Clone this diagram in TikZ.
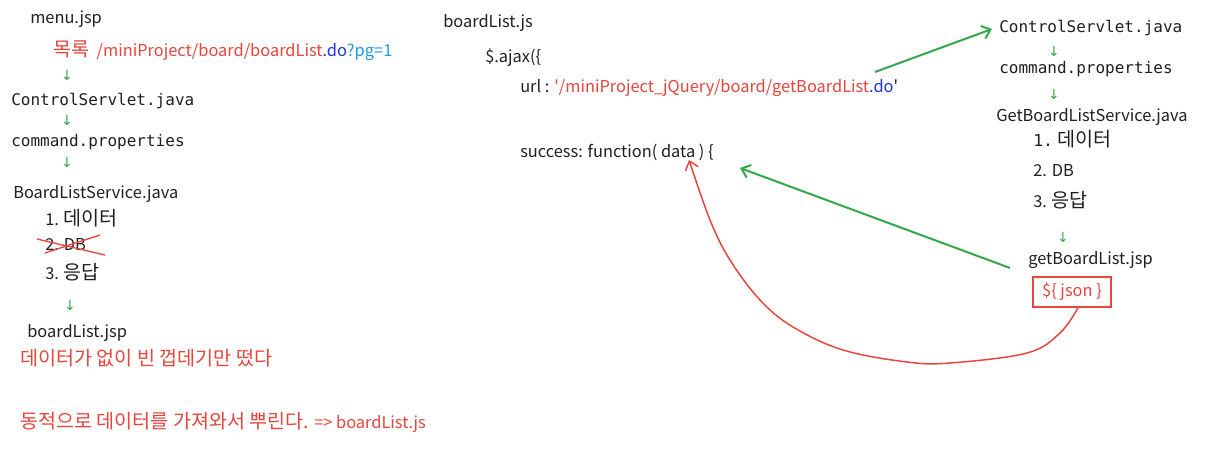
\documentclass[tikz,border=0pt]{standalone}
\usepackage{fontspec}
\setmainfont{Noto Sans CJK KR}[Ligatures=TeXOff]
\setmonofont{DejaVu Sans Mono}
\newfontfamily\symf{DejaVu Sans}
\newcommand\ko[1]{{\fontsize{14.7pt}{17pt}\selectfont #1}}
\usetikzlibrary{arrows.meta}
\definecolor{cred}{HTML}{E8453C}
\definecolor{cgreen}{HTML}{36A84C}
\definecolor{cblue}{HTML}{2233DD}
\definecolor{ccyan}{HTML}{1C9DE0}
\definecolor{ctext}{HTML}{202020}
\begin{document}
\begin{tikzpicture}[x=0.75pt,y=-0.75pt,
  txt/.style={anchor=base west, inner sep=0pt, text=ctext, font=\fontsize{12.3pt}{15pt}\selectfont},
  code/.style={anchor=base west, inner sep=0pt, text=ctext, font=\fontsize{12pt}{14pt}\ttfamily},
  dn/.style={inner sep=0pt, text=cgreen, font=\fontsize{10.5pt}{12pt}\symf},
  garrow/.style={draw=cgreen, line width=1.5pt, -{Straight Barb[length=6pt,width=10pt]}},
  rarrow/.style={draw=cred, line width=1.1pt, -{Straight Barb[length=6pt,width=10pt]}},
  jbox/.style={draw=cred, line width=1.1pt, inner sep=4pt, text=cred, minimum width=58.5pt, minimum height=22.5pt, font=\fontsize{12.3pt}{15pt}\selectfont}
]
\useasboundingbox[fill=white] (0,0) rectangle (1210,463);

% ---------- left column ----------
\node[txt] (menu) at (30,24) {menu.jsp};
\node[txt] (mokrok) at (53,57) {\textcolor{cred}{\ko{목록}~~/miniProject/board/boardList}\textcolor{cblue}{.do}\textcolor{ccyan}{?pg=1}};
\node[dn] (d1) at (67,75) {↓};
\node[code] (cs1) at (11,106) {ControlServlet.java};
\node[dn] (d2) at (67,120) {↓};
\node[code] (cp1) at (11,147) {command.properties};
\node[dn] (d3) at (67,162) {↓};
\node[txt] (bls) at (13,199) {BoardListService.java};
\node[txt] (l1) at (45,226) {1. \ko{데이터}};
\node[txt] (l2) at (45,251) {2. DB};
\draw[cred, line width=1pt] (37,239) -- (105,255);
\draw[cred, line width=1pt] (45,253) -- (100,235);
\node[txt] (l3) at (45,280) {3. \ko{응답}};
\node[dn] (d4) at (70,305) {↓};
\node[txt] (bljsp) at (27,338) {boardList.jsp};
\node[txt, text=cred] (empty) at (20,365) {\ko{데이터가 없이 빈 껍데기만 떴다}};
\node[txt, text=cred] (dyn) at (20,428) {\ko{동적으로 데이터를 가져와서 뿌린다.} => boardList.js};

% ---------- middle column ----------
\node[txt] (bljs) at (443,28) {boardList.js};
\node[txt] (ajax) at (485,63) {\$.ajax(\{};
\node[txt] (url) at (520,93) {url : \textcolor{cred}{'/miniProject\_jQuery/board/getBoardList}\textcolor{cblue}{.do}'};
\node[txt] (succ) at (520,158) {success: function( data ) \{};

% ---------- right column ----------
\node[code] (cs2) at (999,33) {ControlServlet.java};
\node[dn] (d5) at (1054,51) {↓};
\node[code] (cp2) at (999,74) {command.properties};
\node[dn] (d6) at (1054,94) {↓};
\node[txt] (gbls) at (996,122) {GetBoardListService.java};
\node[txt] (r1) at (1033,147) {{\ttfamily 1.} \ko{데이터}};
\node[txt] (r2) at (1033,177) {2. DB};
\node[txt] (r3) at (1033,208) {3. \ko{응답}};
\node[dn] (d7) at (1063,237) {↓};
\node[txt] (gbljsp) at (1028,265) {getBoardList.jsp};
\node[jbox] (json) at (1072,292) {\$\{ json \}};

% ---------- connectors ----------
\coordinate (g1s) at (875,72);
\coordinate (g1e) at (992,29);
\draw[garrow] (g1s) -- (g1e);
\coordinate (g2s) at (1010,268);
\coordinate (g2e) at (740,168);
\draw[garrow] (g2s) -- (g2e);
\coordinate (datatip) at (689,160);
\draw[rarrow] plot[smooth, tension=0.6] coordinates {([xshift=4.5pt]json.south) (1060,333) (1027,353) (950,363) (907,362) (843,350) (793,327) (760,300) (730,260) (710,220) (datatip)};
\end{tikzpicture}
\end{document}
